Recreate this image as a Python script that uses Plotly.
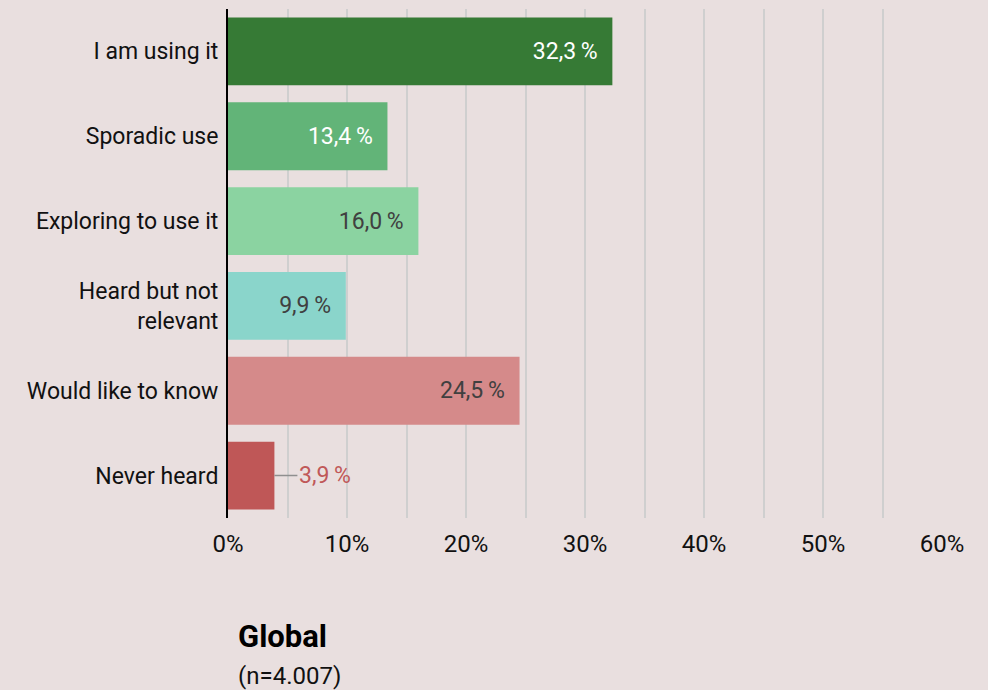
import plotly.graph_objects as go

categories = ["I am using it", "Sporadic use", "Exploring to use it",
              "Heard but not<br>relevant", "Would like to know", "Never heard"]
values = [32.3, 13.4, 16.0, 9.9, 24.5, 3.9]
bar_colors = ["#367a35", "#62b478", "#8bd3a1", "#8ad5cb", "#d58a8a", "#bf5757"]
label_colors = ["#ffffff", "#ffffff", "#404040", "#404040", "#404040", "#c05858"]
tick_vals = [0, 10, 20, 30, 40, 50, 60]
tick_text = ["0%", "10%", "20%", "30%", "40%", "50%", "60%"]

def fmt(v):
    return f"{v:.1f}".replace(".", ",") + "\u2009%"

inside_text = [fmt(v) + "\u2002" if i < len(values) - 1 else "" for i, v in enumerate(values)]

fig = go.Figure()
fig.add_trace(go.Bar(
    y=categories, x=values, orientation="h",
    marker=dict(color=bar_colors, line=dict(width=0)),
    text=inside_text, textposition="inside", insidetextanchor="end",
    textfont=dict(family="Roboto", size=23, color=label_colors),
    cliponaxis=False, hoverinfo="skip",
))

# outside label with leader line for the last bar
fig.add_annotation(
    x=values[-1], y=categories[-1], xref="x", yref="y",
    text=fmt(values[-1]), showarrow=True, arrowhead=0, arrowwidth=1.5,
    arrowcolor="#8f8f8f", ax=23, ay=0, xanchor="left", standoff=0,
    font=dict(family="Roboto", size=23, color="#c05858"),
)

fig.add_annotation(
    x=0, y=0, xref="paper", yref="paper", xanchor="left", yanchor="middle",
    xshift=8, yshift=-118, text="<b>Global</b>", showarrow=False,
    font=dict(family="Roboto", size=31, color="#000000"),
)
fig.add_annotation(
    x=0, y=0, xref="paper", yref="paper", xanchor="left", yanchor="middle",
    xshift=8, yshift=-158, text="(n=4.007)", showarrow=False,
    font=dict(family="Roboto", size=24, color="#111111"),
)

fig.update_layout(
    width=988, height=690,
    margin=dict(l=228, r=46, t=9, b=172),
    paper_bgcolor="#e9dfdf", plot_bgcolor="rgba(0,0,0,0)",
    bargap=0.2, showlegend=False,
    font=dict(family="Roboto", size=23, color="#111111"),
)
fig.update_xaxes(
    range=[0, 60], tickvals=tick_vals, ticktext=tick_text,
    showgrid=True, gridcolor="#cfcfcf", gridwidth=1.5,
    minor=dict(dtick=5, showgrid=True, gridcolor="#cfcfcf", gridwidth=1.5),
    zeroline=False, showline=False, ticks="",
    tickfont=dict(family="Roboto", size=24, color="#111111"),
    ticklabelstandoff=9, fixedrange=True,
)
fig.update_yaxes(
    autorange="reversed", showline=True, linecolor="#000000", linewidth=2,
    ticks="", showgrid=False, ticklabelstandoff=3,
    tickfont=dict(family="Roboto", size=23, color="#111111"),
)

fig.write_html(
    "out.html",
    config={"displayModeBar": False},
    post_script="document.body.style.margin='0';document.body.style.overflow='hidden';",
)
